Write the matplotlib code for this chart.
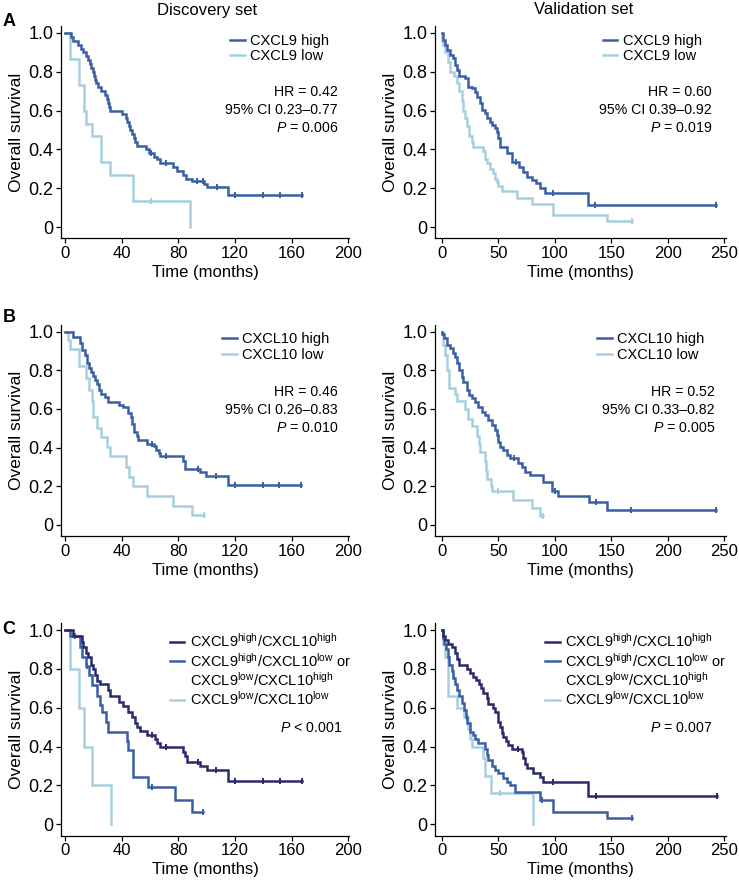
import numpy as np
import matplotlib
matplotlib.use('Agg')
import matplotlib.pyplot as plt

plt.rcParams['font.family'] = ['Liberation Sans', 'DejaVu Sans']
plt.rcParams['mathtext.fontset'] = 'custom'
plt.rcParams['mathtext.rm'] = 'Liberation Sans'
plt.rcParams['mathtext.it'] = 'Liberation Sans:italic'

HIGH = '#3b5fa5'
LOW = '#a8cfe0'
NAVY = '#2b2a6c'

# Kaplan-Meier curves:
# *_t = event times (months), *_s = survival after that event, *_c = censor times

# A, discovery set, CXCL9
a_dis_high_t = [4.5, 6, 9, 11, 13, 15, 16, 17.5, 18.5, 19.5, 20.5, 21.5, 22, 23, 25.5, 28, 30, 30.5, 31, 32,
                40.5, 43, 44, 45, 46, 47.5, 48.5, 49.5, 51, 57, 59, 62.8, 64.7, 67, 76.5, 79, 83, 85.6, 89.4,
                98, 100, 115.3]
a_dis_high_s = [0.98, 0.96, 0.94, 0.92, 0.90, 0.88, 0.86, 0.84, 0.82, 0.80, 0.78, 0.76, 0.74, 0.72, 0.70, 0.68,
                0.66, 0.64, 0.62, 0.60, 0.58, 0.56, 0.54, 0.52, 0.50, 0.48, 0.46, 0.44, 0.42, 0.40, 0.38, 0.36,
                0.35, 0.33, 0.31, 0.29, 0.27, 0.25, 0.235, 0.22, 0.205, 0.165]
a_dis_high_c = [61, 71, 93, 97.6, 107, 120, 140, 152, 167]
a_dis_low_t = [3.5, 10, 13.5, 14.8, 18.8, 25.2, 31.8, 48.2, 88]
a_dis_low_s = [0.867, 0.733, 0.60, 0.533, 0.467, 0.333, 0.267, 0.133, 0.0]
a_dis_low_c = [61]

# A, validation set, CXCL9
a_val_high_t = [1.4, 2.9, 5, 7.3, 9.7, 11.8, 13.8, 15.6, 20.6, 23.6, 26.5, 29.5, 31, 33.9, 35.4, 38.3, 39.8,
                42.7, 44.2, 47.2, 48.6, 50.1, 51.6, 58, 61.9, 68.5, 72.2, 75.2, 79.6, 83.4, 87, 91.4, 129.8]
a_val_high_s = [0.964, 0.938, 0.912, 0.887, 0.87, 0.835, 0.81, 0.78, 0.766, 0.723, 0.715, 0.697, 0.672, 0.638,
                0.603, 0.586, 0.56, 0.543, 0.526, 0.51, 0.491, 0.457, 0.414, 0.38, 0.337, 0.31, 0.285, 0.26,
                0.243, 0.225, 0.2, 0.174, 0.113]
a_val_high_c = [65.7, 98.8, 135.7, 243]
a_val_low_t = [0.5, 1.4, 2.9, 5.9, 7.3, 10.9, 13.3, 15.6, 17.7, 19.1, 20.6, 22.1, 24.5, 26.5, 28, 36.2, 38.3,
               40.4, 42.7, 45.1, 47.2, 48.6, 50.1, 53.1, 66.3, 80, 98.8, 146]
a_val_low_s = [0.96, 0.94, 0.90, 0.85, 0.80, 0.78, 0.74, 0.70, 0.65, 0.60, 0.56, 0.52, 0.47, 0.44, 0.41, 0.39,
               0.35, 0.33, 0.30, 0.28, 0.25, 0.23, 0.21, 0.186, 0.15, 0.12, 0.06, 0.03]
a_val_low_c = [168]

# B, discovery set, CXCL10
b_dis_high_t = [5.4, 10.6, 11.8, 14.1, 15.8, 17.2, 18.1, 19.5, 21.2, 22.4, 24, 25.4, 28.2, 30.6, 38.4, 41.2,
                44.2, 46.6, 47.5, 48.9, 50.6, 51.8, 58.1, 62.8, 64.2, 66.6, 67.1, 83.1, 84.7, 95.3, 99.3, 115.3]
b_dis_high_s = [0.97, 0.94, 0.905, 0.88, 0.84, 0.81, 0.79, 0.77, 0.75, 0.73, 0.70, 0.68, 0.66, 0.638, 0.62,
                0.61, 0.58, 0.56, 0.52, 0.48, 0.46, 0.44, 0.42, 0.41, 0.39, 0.37, 0.355, 0.33, 0.29, 0.275,
                0.255, 0.205]
b_dis_high_c = [61.2, 71.1, 93.6, 106.6, 120, 139.5, 151.3, 166.6]
b_dis_low_t = [2.4, 3.5, 10.1, 14.8, 17.2, 18.8, 20, 22.4, 25.2, 29.4, 31.8, 43.1, 45.4, 48.2, 57.6, 76.5, 89.4]
b_dis_low_s = [0.955, 0.91, 0.82, 0.76, 0.70, 0.64, 0.56, 0.50, 0.455, 0.405, 0.355, 0.30, 0.25, 0.20, 0.15,
               0.10, 0.05]
b_dis_low_c = [98]

# B, validation set, CXCL10
b_val_high_t = [0.5, 2.0, 4.4, 7.3, 9.7, 11.8, 13.3, 15.6, 17.7, 19.1, 22.1, 24.5, 26.5, 29.5, 32.4, 35.4,
                38.3, 41.3, 44.2, 47.2, 48.6, 50.1, 51.6, 54.5, 57.5, 60.5, 67.8, 70.8, 73.7, 78.1, 90, 97.3,
                103, 130, 146]
b_val_high_s = [0.99, 0.966, 0.932, 0.914, 0.888, 0.871, 0.836, 0.802, 0.767, 0.741, 0.698, 0.672, 0.655,
                0.638, 0.612, 0.586, 0.569, 0.543, 0.517, 0.491, 0.465, 0.431, 0.405, 0.388, 0.362, 0.345,
                0.319, 0.30, 0.276, 0.259, 0.22, 0.176, 0.15, 0.12, 0.078]
b_val_high_c = [64, 100.3, 136.6, 167.6, 243]
b_val_low_t = [1.5, 2.9, 5, 6.8, 11.8, 13.9, 20.6, 23.6, 26.5, 31, 33.3, 33.9, 38.3, 39.2, 40.4, 43.4, 44.2,
               62.8, 79.6, 87]
b_val_low_s = [0.93, 0.88, 0.80, 0.71, 0.68, 0.64, 0.60, 0.55, 0.51, 0.46, 0.42, 0.38, 0.33, 0.28, 0.24,
               0.20, 0.175, 0.13, 0.086, 0.045]
b_val_low_c = [50.1, 90]

# C, discovery set, combined groups
c_dis_hh_t = [5.4, 11.8, 12.9, 14.8, 16.5, 18.1, 19.5, 21.2, 22.8, 24.7, 30.6, 31.8, 38.4, 41.2, 44.7, 47.1,
              49.4, 51.1, 52.9, 57.6, 63.5, 64.7, 67.1, 83.1, 84.7, 85.9, 95.3, 100, 115.3]
c_dis_hh_s = [0.97, 0.94, 0.91, 0.88, 0.86, 0.82, 0.80, 0.77, 0.74, 0.72, 0.69, 0.662, 0.63, 0.61, 0.58,
              0.55, 0.52, 0.50, 0.482, 0.46, 0.44, 0.42, 0.40, 0.37, 0.35, 0.322, 0.30, 0.28, 0.225]
c_dis_hh_c = [61.2, 71, 93.6, 106.6, 120, 140, 151.8, 167]
c_dis_mix_t = [3.5, 10.6, 11.8, 14.8, 17.2, 18.8, 22.4, 24.7, 25.9, 28.9, 30.6, 43.5, 44.7, 48.2, 58.8,
               77.6, 89.4]
c_dis_mix_s = [0.97, 0.914, 0.863, 0.815, 0.77, 0.717, 0.66, 0.614, 0.58, 0.528, 0.477, 0.43, 0.383, 0.245,
               0.194, 0.125, 0.065]
c_dis_mix_c = [7, 15.8, 61.2, 97.6]
c_dis_ll_t = [3.5, 10.1, 13.6, 18.8, 32.2]
c_dis_ll_s = [0.8, 0.6, 0.4, 0.2, 0.0]
c_dis_ll_c = []

# C, validation set, combined groups
c_val_hh_t = [1.5, 2.9, 5.9, 8.8, 11.8, 13.9, 15.6, 22.7, 25.1, 28, 30.4, 33.3, 34.8, 36.9, 39.8, 41.3, 45.7,
              47.2, 49.6, 50.1, 51.6, 53.1, 54.6, 56.9, 59, 61.9, 70.8, 72.3, 73.7, 75.8, 81.1, 87, 90, 129.8]
c_val_hh_s = [0.97, 0.95, 0.93, 0.91, 0.88, 0.85, 0.82, 0.80, 0.78, 0.76, 0.743, 0.72, 0.70, 0.674, 0.65,
              0.62, 0.60, 0.58, 0.56, 0.528, 0.50, 0.47, 0.451, 0.43, 0.41, 0.39, 0.37, 0.34, 0.31, 0.29,
              0.266, 0.245, 0.22, 0.146]
c_val_hh_c = [67.8, 98.8, 136.6, 243.4]
c_val_mix_t = [0.9, 2.1, 3.8, 5.3, 6.8, 8.8, 10.3, 11.8, 13.9, 15.6, 17.7, 20.1, 21.5, 22.7, 25.1, 28, 29.5,
               32.4, 38.3, 39.8, 41.3, 44.2, 47.2, 50.1, 54, 57.5, 60.5, 64.9, 87, 98.8, 146]
c_val_mix_s = [0.96, 0.93, 0.90, 0.86, 0.82, 0.79, 0.751, 0.72, 0.69, 0.66, 0.623, 0.59, 0.55, 0.52, 0.477,
               0.46, 0.437, 0.417, 0.39, 0.357, 0.33, 0.302, 0.28, 0.262, 0.24, 0.22, 0.20, 0.168, 0.125,
               0.065, 0.031]
c_val_mix_c = [22, 88.5, 168]
c_val_ll_t = [1, 3, 6, 13.5, 20, 23, 25, 27, 36.8, 38.3, 44, 81]
c_val_ll_s = [0.93, 0.86, 0.66, 0.60, 0.55, 0.49, 0.44, 0.40, 0.34, 0.25, 0.163, 0.0]
c_val_ll_c = [51.6]

lab_hh = 'CXCL9$^{\\mathrm{high}}$/CXCL10$^{\\mathrm{high}}$'
lab_mix1 = 'CXCL9$^{\\mathrm{high}}$/CXCL10$^{\\mathrm{low}}$ or'
lab_mix2 = 'CXCL9$^{\\mathrm{low}}$/CXCL10$^{\\mathrm{high}}$'
lab_ll = 'CXCL9$^{\\mathrm{low}}$/CXCL10$^{\\mathrm{low}}$'


def km(ax, t, s, c, color, label, z):
    end = max([t[-1]] + list(c))
    x = [0] + list(t) + [end]
    y = [1.0] + list(s) + [s[-1]]
    ax.step(x, y, where='post', color=color, lw=1.8, label=label, zorder=z, solid_joinstyle='miter')
    if len(c):
        idx = np.searchsorted(t, c, side='right')
        cy = np.array([1.0] + list(s))[idx]
        ax.plot(c, cy, '|', ms=4.5, mew=1.4, color=color, zorder=z)


def style(ax, right):
    for sp in ['top', 'right']:
        ax.spines[sp].set_visible(False)
    ax.set_ylim(-0.058, 1.035)
    if right:
        ax.set_xlim(-5.9, 251.5)
        ax.set_xticks([0, 50, 100, 150, 200, 250])
    else:
        ax.set_xlim(-2.8, 200.5)
        ax.set_xticks([0, 40, 80, 120, 160, 200])
    ax.set_yticks([0, 0.2, 0.4, 0.6, 0.8, 1.0])
    ax.set_yticklabels(['0', '0.2', '0.4', '0.6', '0.8', '1.0'])
    ax.tick_params(length=3.5, width=0.9, pad=2)
    ax.tick_params(axis='x', labelsize=12)
    ax.tick_params(axis='y', labelsize=13)
    ax.set_xlabel('Time (months)', fontsize=12, labelpad=3)
    ax.set_ylabel('Overall survival', fontsize=12.5, labelpad=3)
    for sp in ['left', 'bottom']:
        ax.spines[sp].set_linewidth(0.9)


W, H = 739, 885
fig = plt.figure(figsize=(W / 100, H / 100), dpi=100)

rows = [(238.3, 212.1), (536.2, 211.3), (835.6, 212.4)]
cols = [(61, 288), (435, 291)]
axes = {}
for r, (bot, hgt) in enumerate(rows):
    for k, (lft, wid) in enumerate(cols):
        axes[(r, k)] = fig.add_axes([lft / W, 1 - bot / H, wid / W, hgt / H])

panels = [
    ((0, 0), [(a_dis_high_t, a_dis_high_s, a_dis_high_c, HIGH, 'CXCL9 high'),
              (a_dis_low_t, a_dis_low_s, a_dis_low_c, LOW, 'CXCL9 low')],
     ['HR = 0.42', '95% CI 0.23\u20130.77', '$P$ = 0.006'], 0.962, 0.605, 0.587),
    ((0, 1), [(a_val_high_t, a_val_high_s, a_val_high_c, HIGH, 'CXCL9 high'),
              (a_val_low_t, a_val_low_s, a_val_low_c, LOW, 'CXCL9 low')],
     ['HR = 0.60', '95% CI 0.39\u20130.92', '$P$ = 0.019'], 0.952, 0.605, 0.577),
    ((1, 0), [(b_dis_high_t, b_dis_high_s, b_dis_high_c, HIGH, 'CXCL10 high'),
              (b_dis_low_t, b_dis_low_s, b_dis_low_c, LOW, 'CXCL10 low')],
     ['HR = 0.46', '95% CI 0.26\u20130.83', '$P$ = 0.010'], 0.962, 0.597, 0.559),
    ((1, 1), [(b_val_high_t, b_val_high_s, b_val_high_c, HIGH, 'CXCL10 high'),
              (b_val_low_t, b_val_low_s, b_val_low_c, LOW, 'CXCL10 low')],
     ['HR = 0.52', '95% CI 0.33\u20130.82', '$P$ = 0.005'], 0.962, 0.597, 0.557),
]

for key, curves, ann, ax_x, ax_y, leg_x in panels:
    ax = axes[key]
    for i, (t, s, c, col, lab) in enumerate(curves):
        km(ax, t, s, c, col, lab, 3 - i)
    style(ax, key[1] == 1)
    ax.legend(loc='upper left', bbox_to_anchor=(leg_x, 0.965), frameon=False, fontsize=10.5,
              handlelength=1.0, handletextpad=0.35, labelspacing=0.1, borderpad=0, borderaxespad=0)
    ax.text(ax_x, ax_y, '\n'.join(ann), transform=ax.transAxes, ha='right', va='center',
            multialignment='right', fontsize=10.2, linespacing=1.35)

for key, groups, ptxt, px in [((2, 0), [(c_dis_hh_t, c_dis_hh_s, c_dis_hh_c), (c_dis_mix_t, c_dis_mix_s, c_dis_mix_c),
                                        (c_dis_ll_t, c_dis_ll_s, c_dis_ll_c)], '$P$ < 0.001', 0.976),
                              ((2, 1), [(c_val_hh_t, c_val_hh_s, c_val_hh_c), (c_val_mix_t, c_val_mix_s, c_val_mix_c),
                                        (c_val_ll_t, c_val_ll_s, c_val_ll_c)], '$P$ = 0.007', 0.952)]:
    ax = axes[key]
    cols_c = [NAVY, HIGH, LOW]
    labs = [lab_hh, lab_mix1, lab_ll]
    for i, (t, s, c) in enumerate(groups):
        km(ax, t, s, c, cols_c[i], labs[i], 4 - i)
    style(ax, key[1] == 1)
    h, l = ax.get_legend_handles_labels()
    blank, = ax.plot([], [], color='none', label=lab_mix2)
    ax.legend([h[0], h[1], blank, h[2]], [l[0], l[1], lab_mix2, l[2]], loc='upper left',
              bbox_to_anchor=(0.378, 0.958), frameon=False, fontsize=10.5, handlelength=1.0,
              handletextpad=0.35, labelspacing=0.1, borderpad=0, borderaxespad=0)
    ax.text(px, 0.507, ptxt, transform=ax.transAxes, ha='right', va='center', fontsize=10.2)

fig.text(207 / W, 1 - 10 / H, 'Discovery set', ha='center', va='center', fontsize=12)
fig.text(584 / W, 1 - 10 / H, 'Validation set', ha='center', va='center', fontsize=12)
for lab, yy in [('A', 22), ('B', 318), ('C', 630)]:
    fig.text(9 / W, 1 - yy / H, lab, ha='center', va='center', fontsize=13, fontweight='bold')

fig.savefig('out.png', dpi=100)
